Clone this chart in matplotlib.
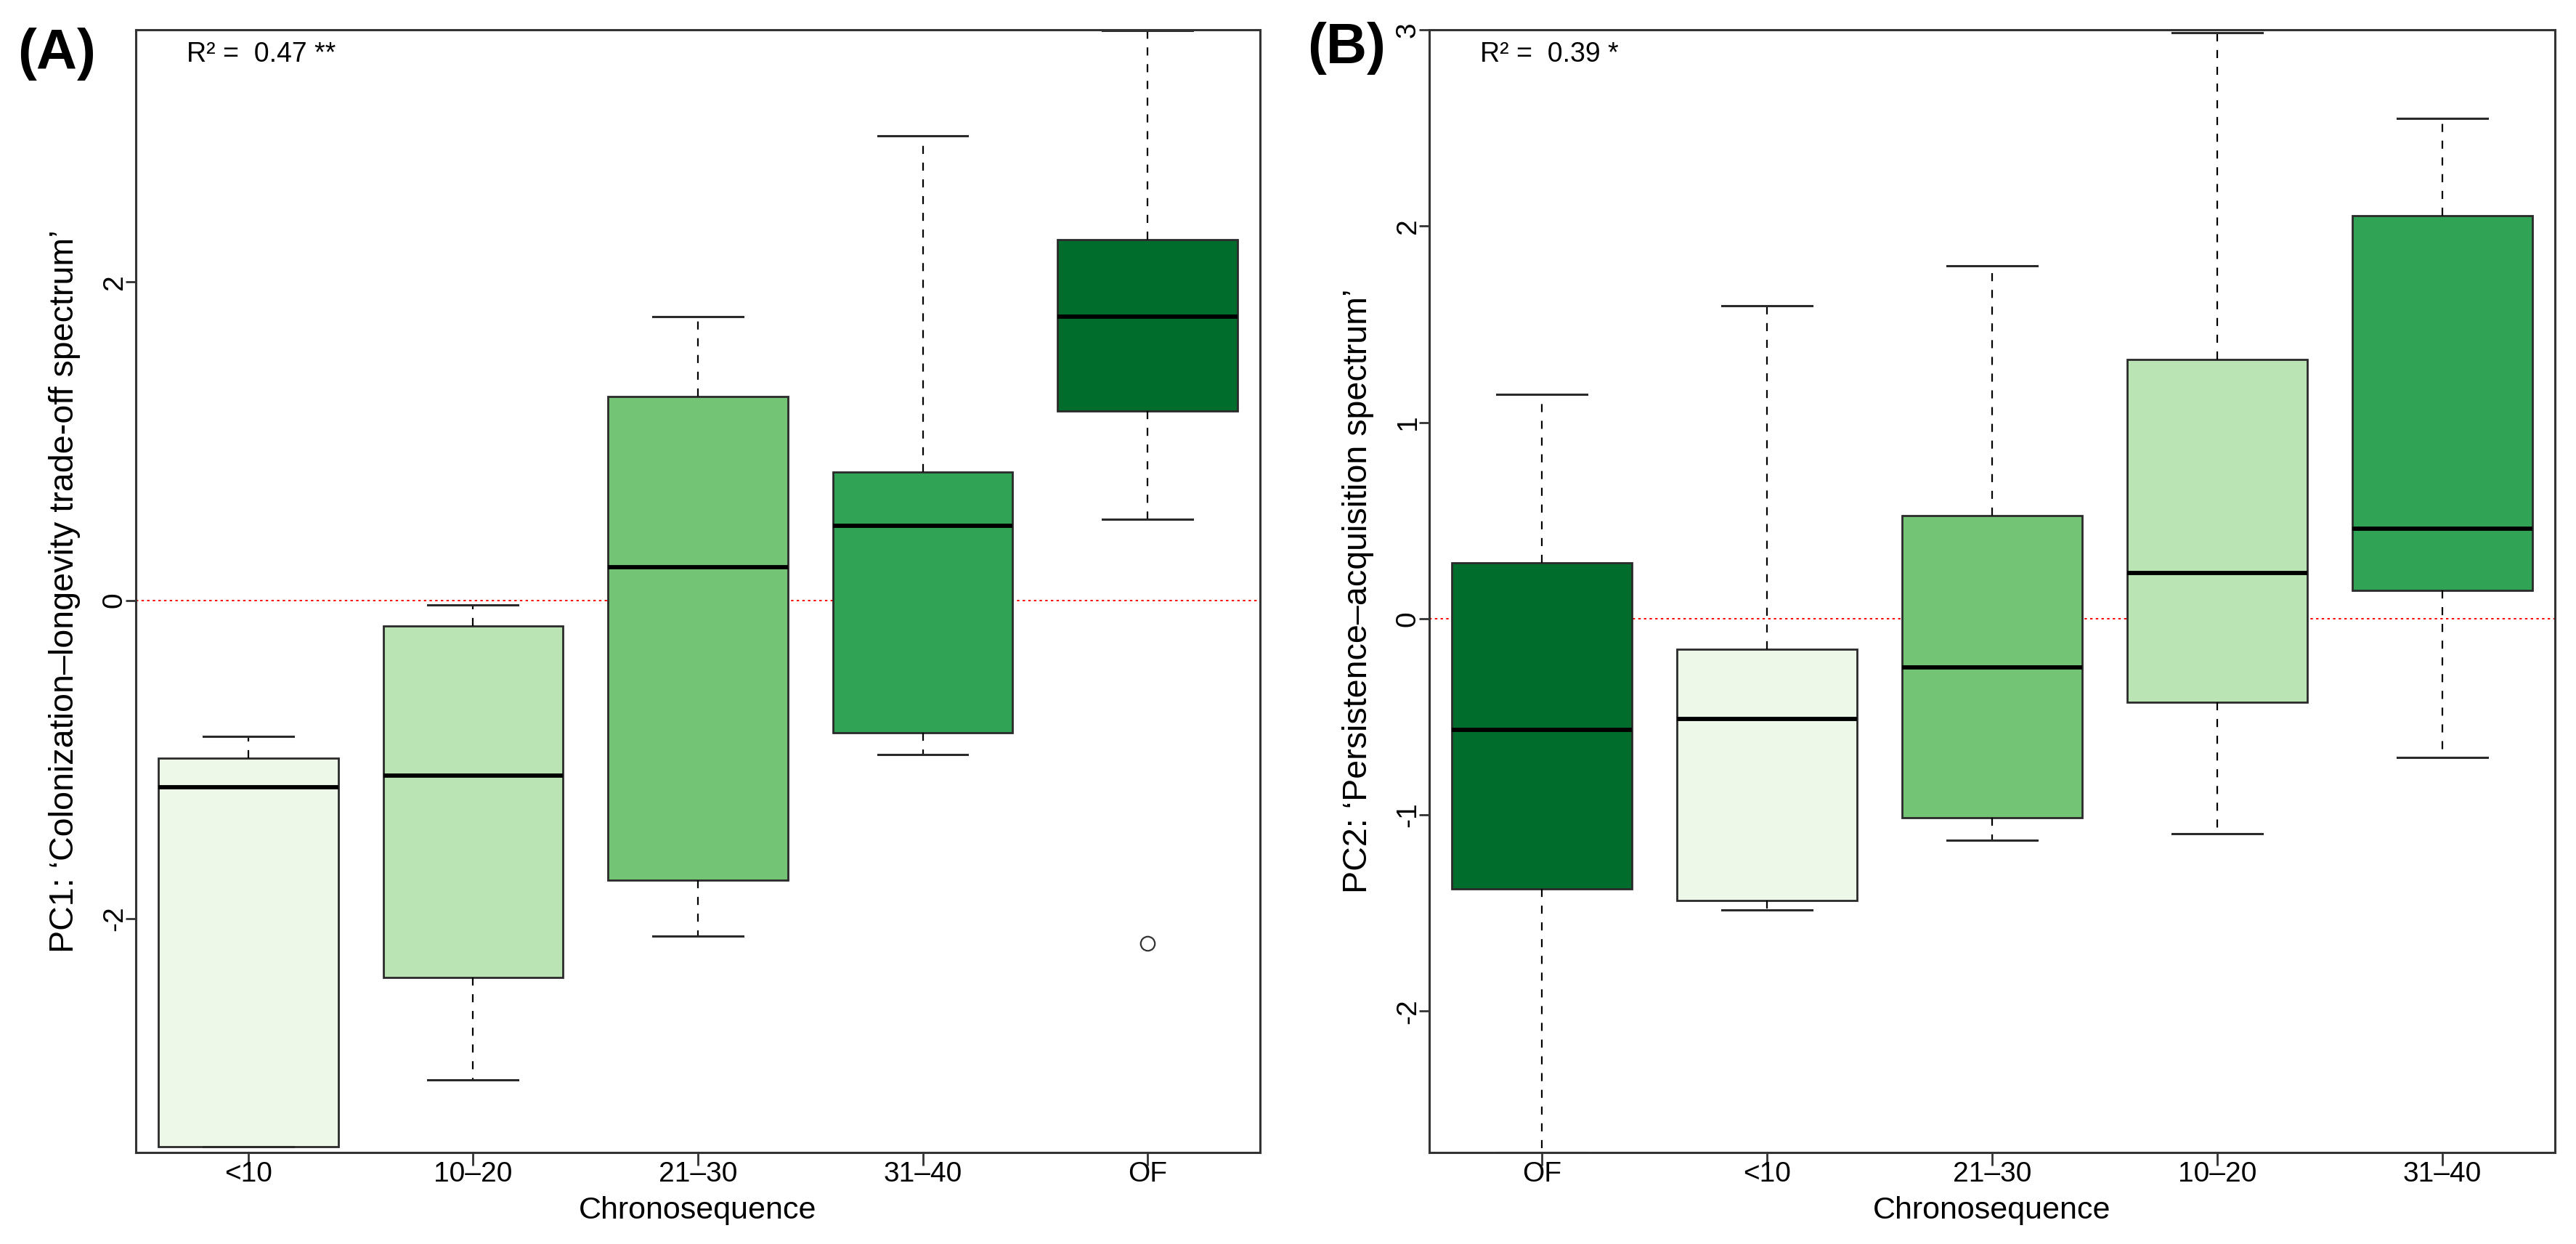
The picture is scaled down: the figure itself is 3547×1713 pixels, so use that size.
import matplotlib
matplotlib.use("Agg")
import matplotlib.pyplot as plt

plt.rcParams["font.family"] = ["Liberation Sans", "DejaVu Sans"]
plt.rcParams["lines.scale_dashes"] = False

# цвета групп (Greens, 5 классов)
group_colors = {"<10": "#EDF8E9", "10–20": "#BAE4B3", "21–30": "#74C476",
                "31–40": "#31A354", "OF": "#006D2C"}

# панель A: PC1
labels_a = ["<10", "10–20", "21–30", "31–40", "OF"]
a_whislo = [-3.43, -3.01, -2.11, -0.967, 0.51]
a_q1 = [-3.43, -2.37, -1.756, -0.83, 1.19]
a_med = [-1.175, -1.10, 0.207, 0.47, 1.784]
a_q3 = [-0.99, -0.163, 1.278, 0.805, 2.265]
a_whishi = [-0.853, -0.027, 1.78, 2.916, 3.58]
a_fliers = [[], [], [], [], [-2.155]]

# панель B: PC2
labels_b = ["OF", "<10", "21–30", "10–20", "31–40"]
b_whislo = [-2.72, -1.486, -1.13, -1.096, -0.707]
b_q1 = [-1.376, -1.437, -1.013, -0.427, 0.144]
b_med = [-0.567, -0.51, -0.25, 0.234, 0.457]
b_q3 = [0.284, -0.155, 0.526, 1.32, 2.053]
b_whishi = [1.142, 1.595, 1.796, 2.987, 2.548]
b_fliers = [[], [], [], [], []]


def make_stats(labels, whislo, q1, med, q3, whishi, fliers):
    stats = []
    for i in range(len(labels)):
        stats.append({"label": labels[i], "whislo": whislo[i], "q1": q1[i],
                      "med": med[i], "q3": q3[i], "whishi": whishi[i],
                      "fliers": fliers[i]})
    return stats


def draw_panel(ax, stats, ylim, yticks, ylabel, r2_text):
    bp = ax.bxp(stats, widths=0.8, capwidths=0.4, patch_artist=True,
                boxprops=dict(edgecolor="#2a2a2a", linewidth=1.0),
                medianprops=dict(color="black", linewidth=2.1, solid_capstyle="butt"),
                whiskerprops=dict(color="black", linewidth=0.8, linestyle=(0, (4.0, 4.3))),
                capprops=dict(color="#2a2a2a", linewidth=1.1),
                flierprops=dict(marker="o", markerfacecolor="none", markeredgecolor="#333333",
                                markersize=7, markeredgewidth=0.8))
    for patch, st in zip(bp["boxes"], stats):
        patch.set_facecolor(group_colors[st["label"]])

    ax.axhline(0, color="red", linewidth=0.7, linestyle=(0, (1.2, 1.6)), zorder=0.5)

    ax.set_xlim(0.5, len(stats) + 0.5)
    ax.set_ylim(*ylim)
    ax.set_yticks(yticks)
    ax.set_yticklabels([str(t) for t in yticks])
    ax.tick_params(axis="y", labelrotation=90, length=5, width=1.0, pad=-1,
                   labelsize=14, color="#333333")
    ax.tick_params(axis="x", length=6.5, width=1.0, pad=-2, labelsize=14, color="#333333")
    for lab in ax.get_yticklabels():
        lab.set_va("center")

    for sp in ax.spines.values():
        sp.set_color("#333333")
        sp.set_linewidth(1.1)

    ax.set_xlabel("Chronosequence", fontsize=15.5, labelpad=4)
    ax.set_ylabel(ylabel, fontsize=16.8)
    ax.yaxis.set_label_coords(-0.049, 0.5)
    ax.text(0.045, 0.978, r2_text, transform=ax.transAxes, fontsize=13.5,
            ha="left", va="center")


fig = plt.figure(figsize=(17.74, 8.565), dpi=200)
ax_a = fig.add_axes([0.0527, 0.0736, 0.4363, 0.9024])
ax_b = fig.add_axes([0.5547, 0.0736, 0.4368, 0.9024])

draw_panel(ax_a, make_stats(labels_a, a_whislo, a_q1, a_med, a_q3, a_whishi, a_fliers),
           (-3.468, 3.583), [-2, 0, 2],
           "PC1: ‘Colonization–longevity trade-off spectrum’", "R² =  0.47 **")
draw_panel(ax_b, make_stats(labels_b, b_whislo, b_q1, b_med, b_q3, b_whishi, b_fliers),
           (-2.72, 3.0), [-2, -1, 0, 1, 2, 3],
           "PC2: ‘Persistence–acquisition spectrum’", "R² =  0.39 *")

fig.text(0.022, 0.9565, "(A)", fontsize=28, fontweight="bold", ha="center", va="center")
fig.text(0.5226, 0.961, "(B)", fontsize=28, fontweight="bold", ha="center", va="center")

fig.savefig("out.png", dpi=200)
